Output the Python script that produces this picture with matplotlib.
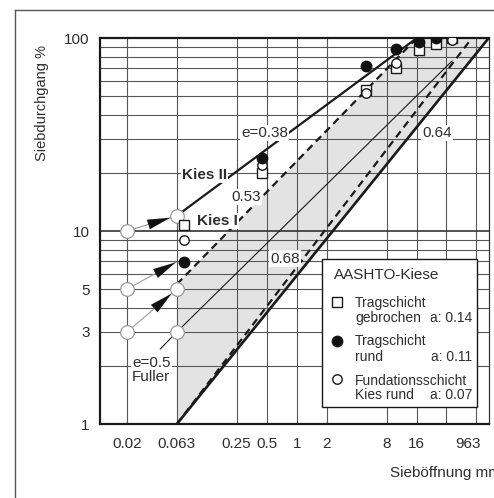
import matplotlib
matplotlib.use("Agg")
import matplotlib.pyplot as plt
from matplotlib.lines import Line2D
from matplotlib.patches import Rectangle
from matplotlib.ticker import NullLocator

plt.rcParams["font.family"] = ["Liberation Sans", "DejaVu Sans"]
plt.rcParams["font.size"] = 11

# sieve sizes (mm) and passing (%) of the AASHTO gravels
sieve_gebrochen = [0.075, 0.45, 5.0, 9.8, 16.8, 25.0, 36.0]
pass_gebrochen = [10.8, 20.0, 54.0, 70.0, 86.5, 93.5, 100.0]
sieve_rund = [0.075, 0.45, 5.0, 9.8, 16.8, 25.0]
pass_rund = [6.9, 23.8, 71.6, 88.0, 95.0, 100.0]
sieve_fundation = [0.075, 0.45, 5.0, 9.8, 36.0]
pass_fundation = [9.0, 22.0, 51.8, 74.0, 98.0]

# grading lines, end points (d, P)
kies2_d = [0.063, 16.0]
kies2_p = [12.0, 100.0]
kies1_d = [0.063, 16.0]
kies1_p = [5.3, 100.0]
fuller_d = [0.063, 36.0]
fuller_p = [3.0, 76.0]
lower68_d = [0.063, 57.0]
lower68_p = [1.0, 100.0]
lower64_d = [0.063, 84.0]
lower64_p = [1.0, 100.0]

# shaded band
band_d = [0.063, 0.063, 16.0, 84.0]
band_p = [1.0, 5.3, 100.0, 100.0]

# extrapolation circles and arrows
circle_d = [0.02, 0.063, 0.02, 0.063, 0.02, 0.063]
circle_p = [10.0, 12.0, 5.0, 5.0, 3.0, 3.0]
arrow_from = [(0.02, 10.0), (0.02, 5.0), (0.02, 3.0)]
arrow_to = [(0.063, 12.0), (0.062, 6.9), (0.063, 5.0)]
arrow_shrink = [5.0, 0.5, 5.0]

x_grid = [0.02, 0.063, 0.25, 0.5, 1, 2, 8, 16, 31.5, 63]
y_grid = [2, 3, 4, 5, 6, 7, 8, 9, 20, 30, 40, 50, 60, 70, 80, 90]
x_ticks = [0.02, 0.063, 0.25, 0.5, 1, 2, 8, 16, 52]
x_labels = ["0.02", "0.063", "0.25", "0.5", "1", "2", "8", "16", "963"]
y_ticks = [1, 3, 5, 10, 100]
y_labels = ["1", "3", "5", "10", "100"]

W, H = 494, 498
TXT = "#2e2e2e"
GRID = "#575757"


def fp(x, y):
    return x / W, 1 - y / H


fig = plt.figure(figsize=(W / 100, H / 100), dpi=100)
ax = fig.add_axes([100 / W, 74 / H, 389 / W, 386 / H])
ax.set_xscale("log")
ax.set_yscale("log")
ax.set_xlim(0.01069, 84.5)
ax.set_ylim(1, 100)

for v in x_grid:
    ax.axvline(v, color=GRID, lw=0.8, zorder=1)
for v in y_grid:
    ax.axhline(v, color=GRID, lw=0.8, zorder=1)
ax.axhline(10, color="#333333", lw=1.2, zorder=1)

ax.fill(band_d, band_p, color="#e3e3e3", lw=0, zorder=0.5)

ax.plot(kies2_d, kies2_p, color="#1a1a1a", lw=1.6, zorder=3)
ax.plot(kies1_d, kies1_p, color="#1a1a1a", lw=1.6, dashes=(3.4, 2.2), zorder=3)
ax.plot(fuller_d, fuller_p, color="#1a1a1a", lw=0.8, zorder=3)
ax.plot(lower68_d, lower68_p, color="#1a1a1a", lw=1.6, dashes=(3.4, 2.2), zorder=3)
ax.plot(lower64_d, lower64_p, color="#1a1a1a", lw=1.9, zorder=3)
# leader to Fuller label
ax.plot([0.043, 0.063], [2.45, 3.0], color="#1a1a1a", lw=0.8, zorder=3)

for (x0, y0), (x1, y1), sb in zip(arrow_from, arrow_to, arrow_shrink):
    ax.plot([x0, x1], [y0, y1], color="#9a9a9a", lw=0.8, zorder=2)
    ax.annotate("", xy=(x1, y1), xytext=(x0, y0), zorder=4,
                arrowprops=dict(arrowstyle="-|>,head_length=1.5,head_width=0.33",
                                color="#111111", lw=0, shrinkA=0, shrinkB=sb))
ax.plot(circle_d, circle_p, ls="none", marker="o", ms=9.8, mfc="white",
        mec="#9a9a9a", mew=0.9, zorder=5)

ax.plot(sieve_gebrochen, pass_gebrochen, ls="none", marker="s", ms=6.5,
        mfc="white", mec="#1a1a1a", mew=1.0, zorder=6)
ax.plot(sieve_fundation, pass_fundation, ls="none", marker="o", ms=6.8,
        mfc="white", mec="#1a1a1a", mew=1.0, zorder=7)
ax.plot(sieve_rund, pass_rund, ls="none", marker="o", ms=7.5,
        mfc="#111111", mec="#111111", mew=1.0, zorder=8)

box = dict(facecolor="white", edgecolor="none", pad=0.8)
ax.text(0.071, 19.5, "Kies II", fontweight="bold", ha="left", va="center",
        color=TXT, bbox=box, zorder=9)
ax.text(0.1, 11.3, "Kies I", fontweight="bold", ha="left", va="center",
        color=TXT, bbox=box, zorder=9)
ax.text(0.48, 32.2, "e=0.38", ha="center", va="center", color=TXT, bbox=box, zorder=9)
ax.text(0.31, 15.0, "0.53", ha="center", va="center", color=TXT, bbox=box, zorder=9)
ax.text(25.5, 32.2, "0.64", ha="center", va="center", color=TXT, bbox=box, zorder=9)
ax.text(0.76, 7.2, "0.68", ha="center", va="center", color=TXT, bbox=box, zorder=9)
ax.text(0.0224, 1.9, "e=0.5\nFuller", ha="left", va="center", color=TXT,
        linespacing=1.0, bbox=box, zorder=9)

ax.set_xticks(x_ticks, labels=x_labels)
ax.set_yticks(y_ticks, labels=y_labels)
ax.xaxis.set_minor_locator(NullLocator())
ax.yaxis.set_minor_locator(NullLocator())
ax.tick_params(length=0, colors=TXT, labelsize=11)
ax.tick_params(axis="x", pad=9.5)
ax.tick_params(axis="y", pad=7.5)
for side in ["left", "bottom", "top"]:
    ax.spines[side].set_linewidth(1.6)
    ax.spines[side].set_color("#1a1a1a")
ax.spines["right"].set_linewidth(0.9)
ax.spines["right"].set_color("#333333")

fig.text(*fp(42, 103), "Siebdurchgang %", rotation=90, ha="center", va="center",
         color=TXT, fontsize=10.5)
fig.text(*fp(390, 473), "Sieböffnung mm", ha="left", va="center", color=TXT)

# outer frame
fig.add_artist(Line2D([15 / W, 1], [1 - 10 / H, 1 - 10 / H], color="#555555", lw=1.0))
fig.add_artist(Line2D([15 / W, 15 / W], [0, 1 - 10 / H], color="#555555", lw=1.0))

# legend box
x0, y0 = fp(322, 407)
fig.add_artist(Rectangle((x0, y0), (477 - 322) / W, (407 - 259) / H,
                         transform=fig.transFigure, facecolor="white",
                         edgecolor="#1a1a1a", lw=1.0, zorder=10))
fig.text(*fp(334, 275), "AASHTO-Kiese", ha="left", va="center", color=TXT,
         fontsize=11, zorder=11)
entries = [
    ("s", "white", 6.5, 302, 303, 318, "Tragschicht", "gebrochen", "a: 0.14"),
    ("o", "#111111", 7.5, 341, 341, 357, "Tragschicht", "rund", "a: 0.11"),
    ("o", "white", 6.8, 379, 381, 395, "Fundationsschicht", "Kies rund", "a: 0.07"),
]
for mk, face, ms, ym, y1, y2, l1, l2, a in entries:
    mx, my = fp(337, ym)
    fig.add_artist(Line2D([mx], [my], ls="none", marker=mk, ms=ms, mfc=face,
                          mec="#1a1a1a", mew=1.0, zorder=11))
    fig.text(*fp(355, y1), l1, ha="left", va="center", color=TXT, fontsize=10, zorder=11)
    fig.text(*fp(355, y2), l2, ha="left", va="center", color=TXT, fontsize=10, zorder=11)
    fig.text(*fp(472, y2), a, ha="right", va="center", color=TXT, fontsize=10, zorder=11)

fig.savefig("out.png", dpi=100)
